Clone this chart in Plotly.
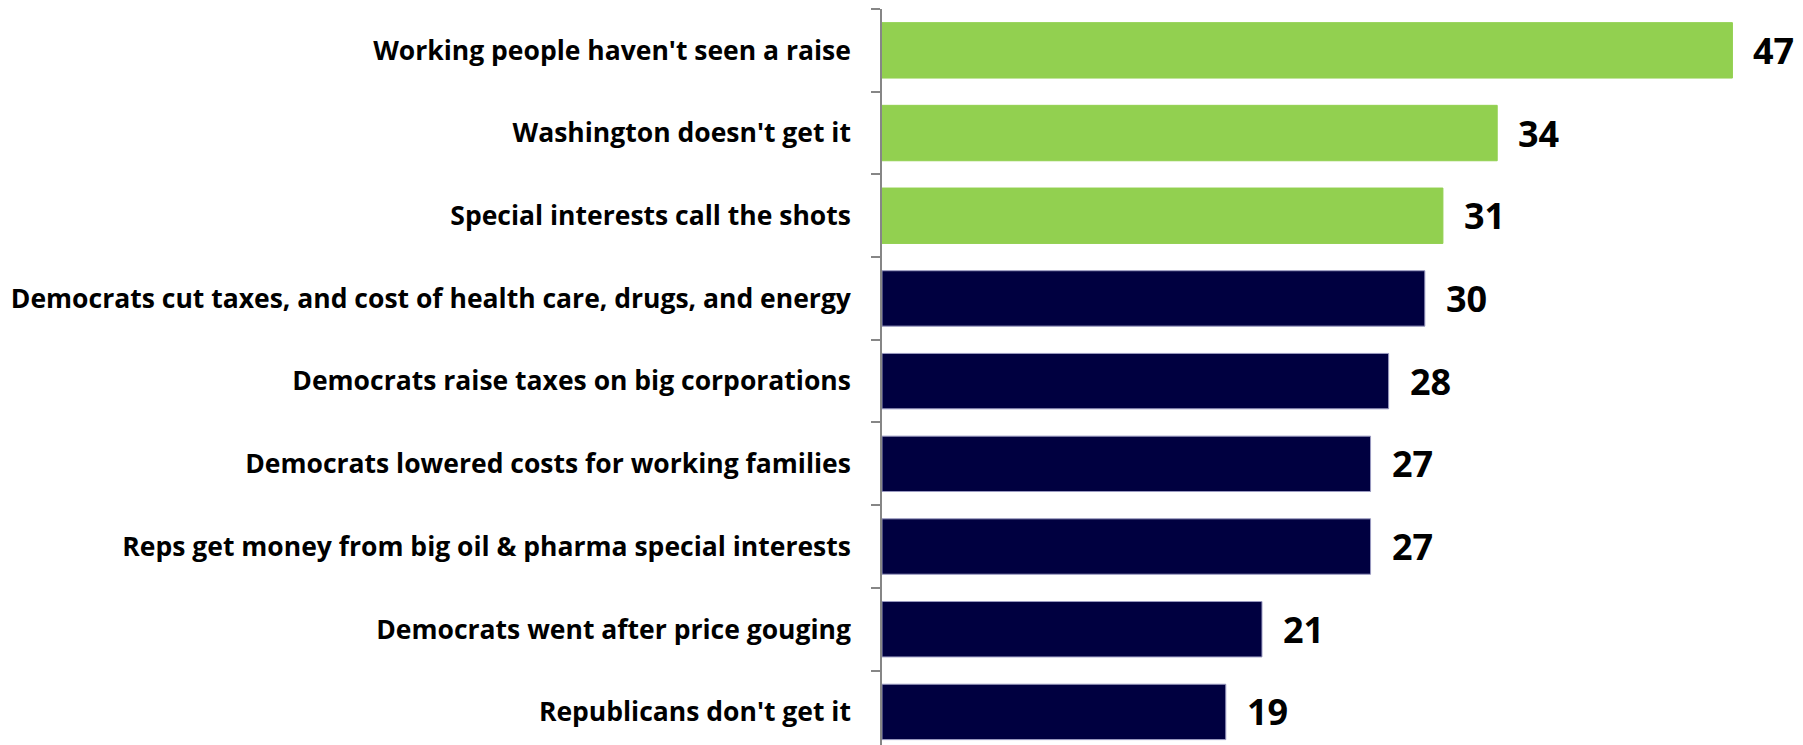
import plotly.graph_objects as go

categories = [
    "Working people haven't seen a raise",
    "Washington doesn't get it",
    "Special interests call the shots",
    "Democrats cut taxes, and cost of health care, drugs, and energy",
    "Democrats raise taxes on big corporations",
    "Democrats lowered costs for working families",
    "Reps get money from big oil & pharma special interests",
    "Democrats went after price gouging",
    "Republicans don't get it",
]
values = [47, 34, 31, 30, 28, 27, 27, 21, 19]
groups = ["green", "green", "green", "navy", "navy", "navy", "navy", "navy", "navy"]
palette = {"green": "#92D050", "navy": "#000040"}
line_palette = {"green": "#92D050", "navy": "#9a9ac0"}

fig = go.Figure(go.Bar(
    x=values,
    y=categories,
    orientation="h",
    marker=dict(color=[palette[g] for g in groups],
                line=dict(color=[line_palette[g] for g in groups], width=1)),
    width=0.67,
    hoverinfo="skip",
))

for c, v in zip(categories, values):
    fig.add_annotation(x=v, y=c, text=f"<b>{v}</b>", showarrow=False,
                       xanchor="left", yanchor="middle", xshift=19, yshift=0,
                       font=dict(family="Open Sans", size=36, color="#000000"))

fig.update_layout(
    width=1795, height=737,
    margin=dict(l=874, r=0, t=1, b=0),
    paper_bgcolor="white", plot_bgcolor="white",
    showlegend=False,
    font=dict(family="Open Sans", color="#000000"),
)
fig.update_xaxes(range=[0, 50.9], visible=False, showgrid=False, zeroline=False)
fig.update_yaxes(
    categoryorder="array", categoryarray=categories,
    range=[8.4, -0.5],
    showline=True, linecolor="#868686", linewidth=1.5,
    ticks="outside", ticklen=9, tickcolor="#868686", tickwidth=1.5,
    tickson="boundaries", showgrid=False,
    ticklabelstandoff=24,
    tickfont=dict(family="Open Sans", size=26.5, color="#000000", weight="bold"),
)

fig.write_html("out.html")
